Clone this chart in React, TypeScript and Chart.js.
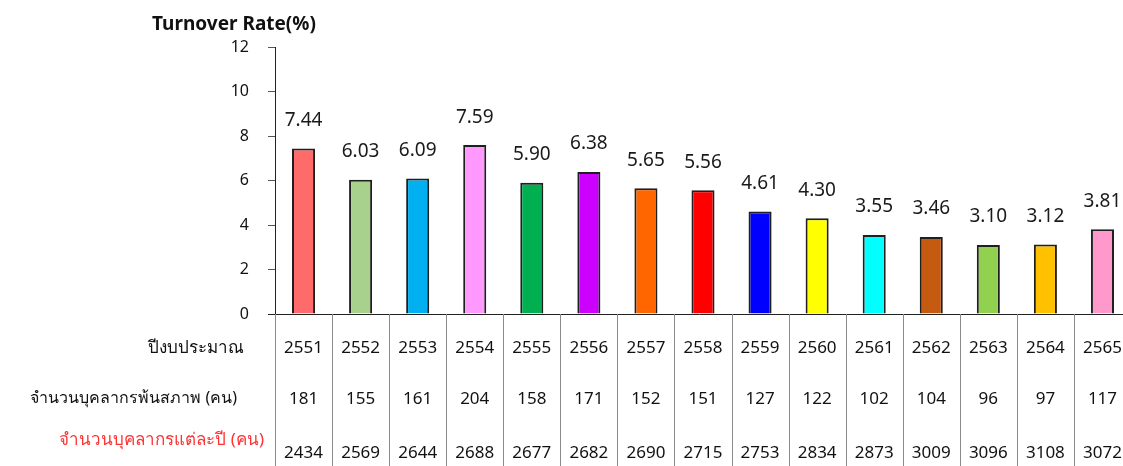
import React, { useEffect, useRef } from "react";
import { Chart, registerables } from "chart.js";

Chart.register(...registerables);

const years = ["2551", "2552", "2553", "2554", "2555", "2556", "2557", "2558", "2559", "2560", "2561", "2562", "2563", "2564", "2565"];
const turnoverRates = [7.44, 6.03, 6.09, 7.59, 5.9, 6.38, 5.65, 5.56, 4.61, 4.3, 3.55, 3.46, 3.1, 3.12, 3.81];
const separatedStaff = [181, 155, 161, 204, 158, 171, 152, 151, 127, 122, 102, 104, 96, 97, 117];
const totalStaff = [2434, 2569, 2644, 2688, 2677, 2682, 2690, 2715, 2753, 2834, 2873, 3009, 3096, 3108, 3072];
const barColors = ["#FF6B6B", "#A9D18E", "#00B0F0", "#FF99FF", "#00B050", "#CC00FF", "#FF6600", "#FF0000", "#0000FF", "#FFFF00", "#00FFFF", "#C55A11", "#92D050", "#FFC000", "#FF99CC"];
const yTicks = [0, 2, 4, 6, 8, 10, 12];

const titleText = "Turnover Rate(%)";
const rowLabels = ["ปีงบประมาณ", "จำนวนบุคลากรพ้นสภาพ (คน)", "จำนวนบุคลากรแต่ละปี (คน)"];

const FONT = "'Noto Sans', 'DejaVu Sans', sans-serif";

export default function App() {
  const canvasRef = useRef<HTMLCanvasElement | null>(null);

  useEffect(() => {
    document.body.style.margin = "0";
    const canvas = canvasRef.current!;
    const tablePlugin = {
      id: "tablePlugin",
      afterDraw(chart: any) {
        const ctx = chart.ctx;
        const area = chart.chartArea;
        const xs = chart.scales.x;
        const meta = chart.getDatasetMeta(0);
        ctx.save();
        // title
        ctx.fillStyle = "#111";
        ctx.font = `bold 19px ${FONT}`;
        ctx.textAlign = "center";
        ctx.textBaseline = "middle";
        ctx.fillText(titleText, 234, 25);

        // data labels
        ctx.font = `19px ${FONT}`;
        ctx.fillStyle = "#1a1a1a";
        meta.data.forEach((bar: any, i: number) => {
          ctx.fillText(turnoverRates[i].toFixed(2), bar.x, bar.y - 28);
        });

        // x axis line
        ctx.strokeStyle = "#222";
        ctx.lineWidth = 1;
        ctx.beginPath();
        ctx.moveTo(268, area.bottom + 0.5);
        ctx.lineTo(area.right, area.bottom + 0.5);
        ctx.stroke();

        // dividers
        const n = years.length;
        const step = (area.right - area.left) / n;
        ctx.strokeStyle = "#8a8a8a";
        for (let i = 0; i <= n; i++) {
          const x = Math.round(area.left + i * step) + 0.5;
          ctx.beginPath();
          ctx.moveTo(x, area.bottom);
          ctx.lineTo(x, 466);
          ctx.stroke();
        }

        // row labels
        ctx.textAlign = "right";
        ctx.fillStyle = "#111";
        ctx.font = `17px ${FONT}`;
        ctx.fillText(rowLabels[0], 244, 348);
        ctx.font = `16px ${FONT}`;
        ctx.fillText(rowLabels[1], 237, 398);
        ctx.font = `17px ${FONT}`;
        ctx.fillStyle = "#FF3333";
        ctx.fillText(rowLabels[2], 264, 440);

        // row values
        ctx.textAlign = "center";
        ctx.fillStyle = "#111";
        years.forEach((y, i) => {
          const cx = xs.getPixelForValue(i);
          ctx.fillText(y, cx, 348);
          ctx.fillText(String(separatedStaff[i]), cx, 399);
          ctx.fillText(String(totalStaff[i]), cx, 453);
        });
        ctx.restore();
      },
    };

    const chart = new Chart(canvas, {
      type: "bar",
      data: {
        labels: years,
        datasets: [
          {
            data: turnoverRates,
            backgroundColor: barColors,
            borderColor: "#1f1f1f",
            borderWidth: 2,
            categoryPercentage: 1,
            barPercentage: 0.404,
          },
        ],
      },
      options: {
        responsive: false,
        animation: false,
        devicePixelRatio: 1,
        layout: { padding: { top: 47, bottom: 152, right: 9, left: 0 } },
        plugins: { legend: { display: false }, tooltip: { enabled: false }, title: { display: false } },
        scales: {
          x: { display: false },
          y: {
            min: 0,
            max: 12,
            afterBuildTicks: (scale: any) => {
              scale.ticks = yTicks.map((v) => ({ value: v }));
            },
            afterFit: (scale: any) => {
              scale.width = 275;
            },
            grid: { drawOnChartArea: false, drawTicks: true, tickLength: 7, color: "#555" },
            border: { display: true, color: "#222", width: 1 },
            ticks: { font: { size: 16, family: FONT }, color: "#111", padding: 19 },
          },
        },
      },
      plugins: [tablePlugin],
    });
    return () => chart.destroy();
  }, []);

  return (
    <div style={{ width: 1123, height: 466, overflow: "hidden", position: "relative", background: "#fff" }}>
      <canvas ref={canvasRef} width={1140} height={466} style={{ display: "block", width: 1140, height: 466 }} />
    </div>
  );
}
